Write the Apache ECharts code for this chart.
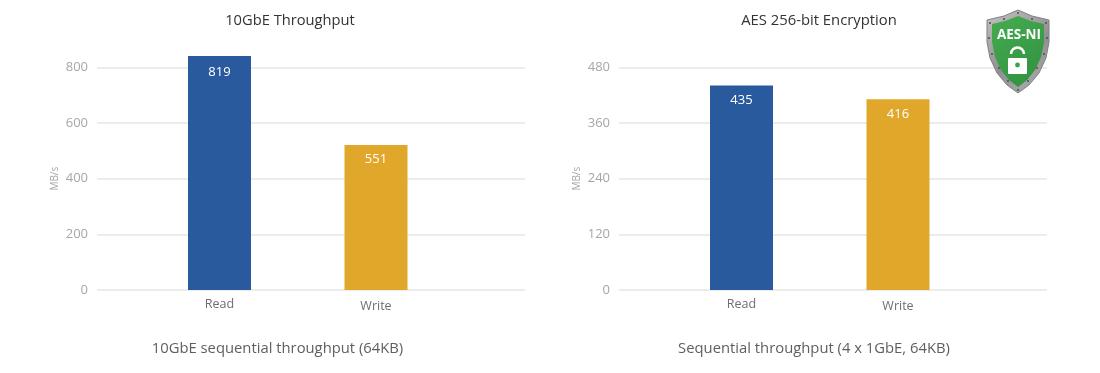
<!DOCTYPE html>
<html><head><meta charset="utf-8">
<style>html,body{margin:0;padding:0;background:#fff}#c{width:1100px;height:373px}</style>
<script src="https://cdn.jsdelivr.net/npm/echarts@6/dist/echarts.min.js"></script>
</head><body><div id="c"></div>
<script>
const categories = ['Read', 'Write'];
const colors = ['#2A5A9E', '#E0A72A'];
const leftTitle = '10GbE Throughput';
const leftCaption = '10GbE sequential throughput (64KB)';
const leftBarHeights = [841, 521];
const leftPrinted = [819, 551];
const leftTicks = {min: 0, max: 800, interval: 200};
const rightTitle = 'AES 256-bit Encryption';
const rightCaption = 'Sequential throughput (4 x 1GbE, 64KB)';
const rightBarHeights = [441, 411];
const rightPrinted = [435, 416];
const rightTicks = {min: 0, max: 480, interval: 120};
const unit = 'MB/s';
const FONT = '"Open Sans","Noto Sans",sans-serif';
const TOP = 67.3, BOTTOM = 83;

function panel(i, lineL, lineR, barC0, barC1, ticks, heights, printed, labelGaps) {
  const band = barC1 - barC0;
  const gi = i * 2;
  return {
    grid: [
      {left: lineL, width: lineR - lineL, top: TOP, bottom: BOTTOM, containLabel: false},
      {left: barC0 - band / 2, width: band * 2, top: TOP, bottom: BOTTOM, containLabel: false}
    ],
    xAxis: [
      {gridIndex: gi, type: 'value', min: 0, max: 1, show: false},
      {gridIndex: gi + 1, type: 'category', data: categories.map((c, k) => ({
          value: c, textStyle: {padding: [k ? 2 : 0, 0, 0, 0]}})),
        axisLine: {show: false}, axisTick: {show: false},
        axisLabel: {color: '#6e6e6e', fontSize: 12.5, fontFamily: FONT, margin: 8}}
    ],
    yAxis: [
      {gridIndex: gi, type: 'value', min: ticks.min, max: ticks.max, interval: ticks.interval,
        axisLine: {show: false}, axisTick: {show: false},
        axisLabel: {color: '#a6a6a6', fontSize: 13, fontFamily: FONT, margin: 9},
        splitLine: {lineStyle: {color: '#e6e6e6', width: 1.5}},
        name: unit, nameLocation: 'middle', nameRotate: 90, nameGap: 37,
        nameTextStyle: {color: '#a6a6a6', fontSize: 10, fontFamily: FONT}},
      {gridIndex: gi + 1, type: 'value', min: ticks.min, max: ticks.max, interval: ticks.interval, show: false}
    ],
    series: [{
      type: 'bar', clip: false, xAxisIndex: gi + 1, yAxisIndex: gi + 1, barWidth: 63, z: 3,
      data: heights.map((v, k) => ({
        value: v, itemStyle: {color: colors[k]},
        label: {show: true, position: 'insideTop', distance: labelGaps[k], color: '#fff', fontSize: 13,
          fontFamily: FONT, formatter: String(printed[k])}
      }))
    }]
  };
}

const a = panel(0, 97, 525, 219.5, 376, leftTicks, leftBarHeights, leftPrinted, [10, 8]);
const b = panel(1, 619, 1047, 741.5, 898, rightTicks, rightBarHeights, rightPrinted, [8, 8]);

function centered(x, y, text, size, fill) {
  return {type: 'text', x, y, z: 10, style: {text, fill, font: size + 'px ' + FONT, align: 'center', verticalAlign: 'middle'}};
}
const shieldOuter = [[1018,10],[1032,16],[1049,20],[1049,42],[1046,58],[1039,73],[1029,85],[1018,93],[1007,85],[997,73],[990,58],[987,42],[987,20],[1004,16]];
const shieldInner = [[1018,16],[1031,21],[1044,24],[1044,42],[1041,57],[1035,70],[1027,80],[1018,87],[1009,80],[1001,70],[995,57],[992,42],[992,24],[1005,21]];
const rivets = [[1018,13],[1004,19],[990,23],[1032,19],[1046,23],[989,38],[1047,38],[992,54],[1044,54],[999,68],[1037,68],[1008,81],[1028,81],[1018,90]];
const metal = {type: 'linear', x: 0, y: 0, x2: 1, y2: 1, colorStops: [{offset: 0, color: '#c4c4c4'}, {offset: 0.55, color: '#8f8f8f'}, {offset: 1, color: '#b4b4b4'}]};
const green = {type: 'linear', x: 0, y: 0, x2: 1, y2: 1, colorStops: [{offset: 0, color: '#46AC4F'}, {offset: 1, color: '#2F8F40'}]};
const graphic = [
  centered(290, 21, leftTitle, 14.7, '#333'),
  centered(819, 21, rightTitle, 14.8, '#333'),
  centered(277.5, 349, leftCaption, 14.8, '#5f5f5f'),
  centered(814, 349, rightCaption, 14.8, '#5f5f5f'),
  {type: 'polygon', z: 20, shape: {points: shieldOuter}, style: {fill: metal, stroke: '#808080', lineWidth: 1}},
  {type: 'polygon', z: 21, shape: {points: shieldInner}, style: {fill: green}},
  ...rivets.map(([cx, cy]) => ({type: 'circle', z: 22, shape: {cx, cy, r: 1}, style: {fill: '#4d4d4d'}})),
  {type: 'text', z: 22, x: 1019, y: 35, style: {text: 'AES-NI', fill: '#fff', font: 'bold 13.5px ' + FONT, align: 'center', verticalAlign: 'middle'}},
  {type: 'arc', z: 22, shape: {cx: 1017.5, cy: 54, r: 6.5, startAngle: Math.PI, endAngle: 0, clockwise: true}, style: {fill: 'none', stroke: '#fff', lineWidth: 2.5}},
  {type: 'rect', z: 22, shape: {x: 1008, y: 58, width: 19, height: 16, r: 1}, style: {fill: '#fff'}},
  {type: 'circle', z: 23, shape: {cx: 1017.5, cy: 65, r: 2.4}, style: {fill: '#3EA04A'}}
];

const option = {
  animation: false,
  backgroundColor: '#fff',
  grid: [...a.grid, ...b.grid],
  xAxis: [...a.xAxis, ...b.xAxis],
  yAxis: [...a.yAxis, ...b.yAxis],
  series: [...a.series, ...b.series],
  graphic
};
echarts.init(document.getElementById('c'), null, {renderer: 'canvas'}).setOption(option);
</script></body></html>
